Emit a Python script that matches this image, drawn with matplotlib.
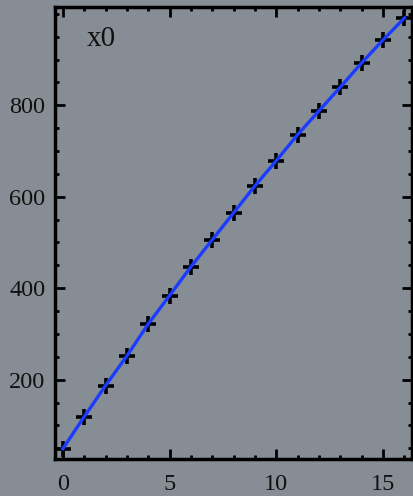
import matplotlib
matplotlib.use("Agg")
import matplotlib.pyplot as plt
from matplotlib.ticker import MultipleLocator

# Data
x_vals = [0, 1, 2, 3, 4, 5, 6, 7, 8, 9, 10, 11, 12, 13, 14, 15, 16]
y_vals = [49, 119, 187, 252, 322, 384, 447, 506, 565, 624, 679,
          736, 788, 840, 893, 943, 991]
x_ticks = [0, 5, 10, 15]
y_ticks = [200, 400, 600, 800]
label = "x0"

bg = "#878d94"
plt.rcParams["font.family"] = ["Liberation Serif", "DejaVu Serif"]

fig = plt.figure(figsize=(4.13, 4.96), dpi=100, facecolor=bg)
ax = fig.add_axes([0.133, 0.075, 0.865, 0.911])
ax.set_facecolor(bg)

ax.plot(x_vals, y_vals, linestyle="none", marker="+", markersize=11,
        markeredgewidth=2.6, color="black", zorder=2)
ax.plot(x_vals, y_vals, color="#1a3cff", linewidth=2.4, zorder=3)

ax.set_xlim(-0.37, 16.36)
ax.set_ylim(27, 1015)
ax.set_xticks(x_ticks)
ax.set_yticks(y_ticks)
ax.xaxis.set_minor_locator(MultipleLocator(1))
ax.yaxis.set_minor_locator(MultipleLocator(50))
ax.tick_params(which="both", direction="in", top=True, right=True,
               width=2, colors="black", labelcolor="#111111", labelsize=17.5)
ax.tick_params(which="major", length=7)
ax.tick_params(which="minor", length=3)
ax.tick_params(axis="x", which="major", pad=11)
ax.tick_params(axis="y", which="major", pad=7)
for s in ax.spines.values():
    s.set_linewidth(2.5)

ax.text(0.09, 0.93, label, transform=ax.transAxes, fontsize=21,
        color="#111111", va="center", ha="left")

fig.savefig("out.png", dpi=100, facecolor=bg)
